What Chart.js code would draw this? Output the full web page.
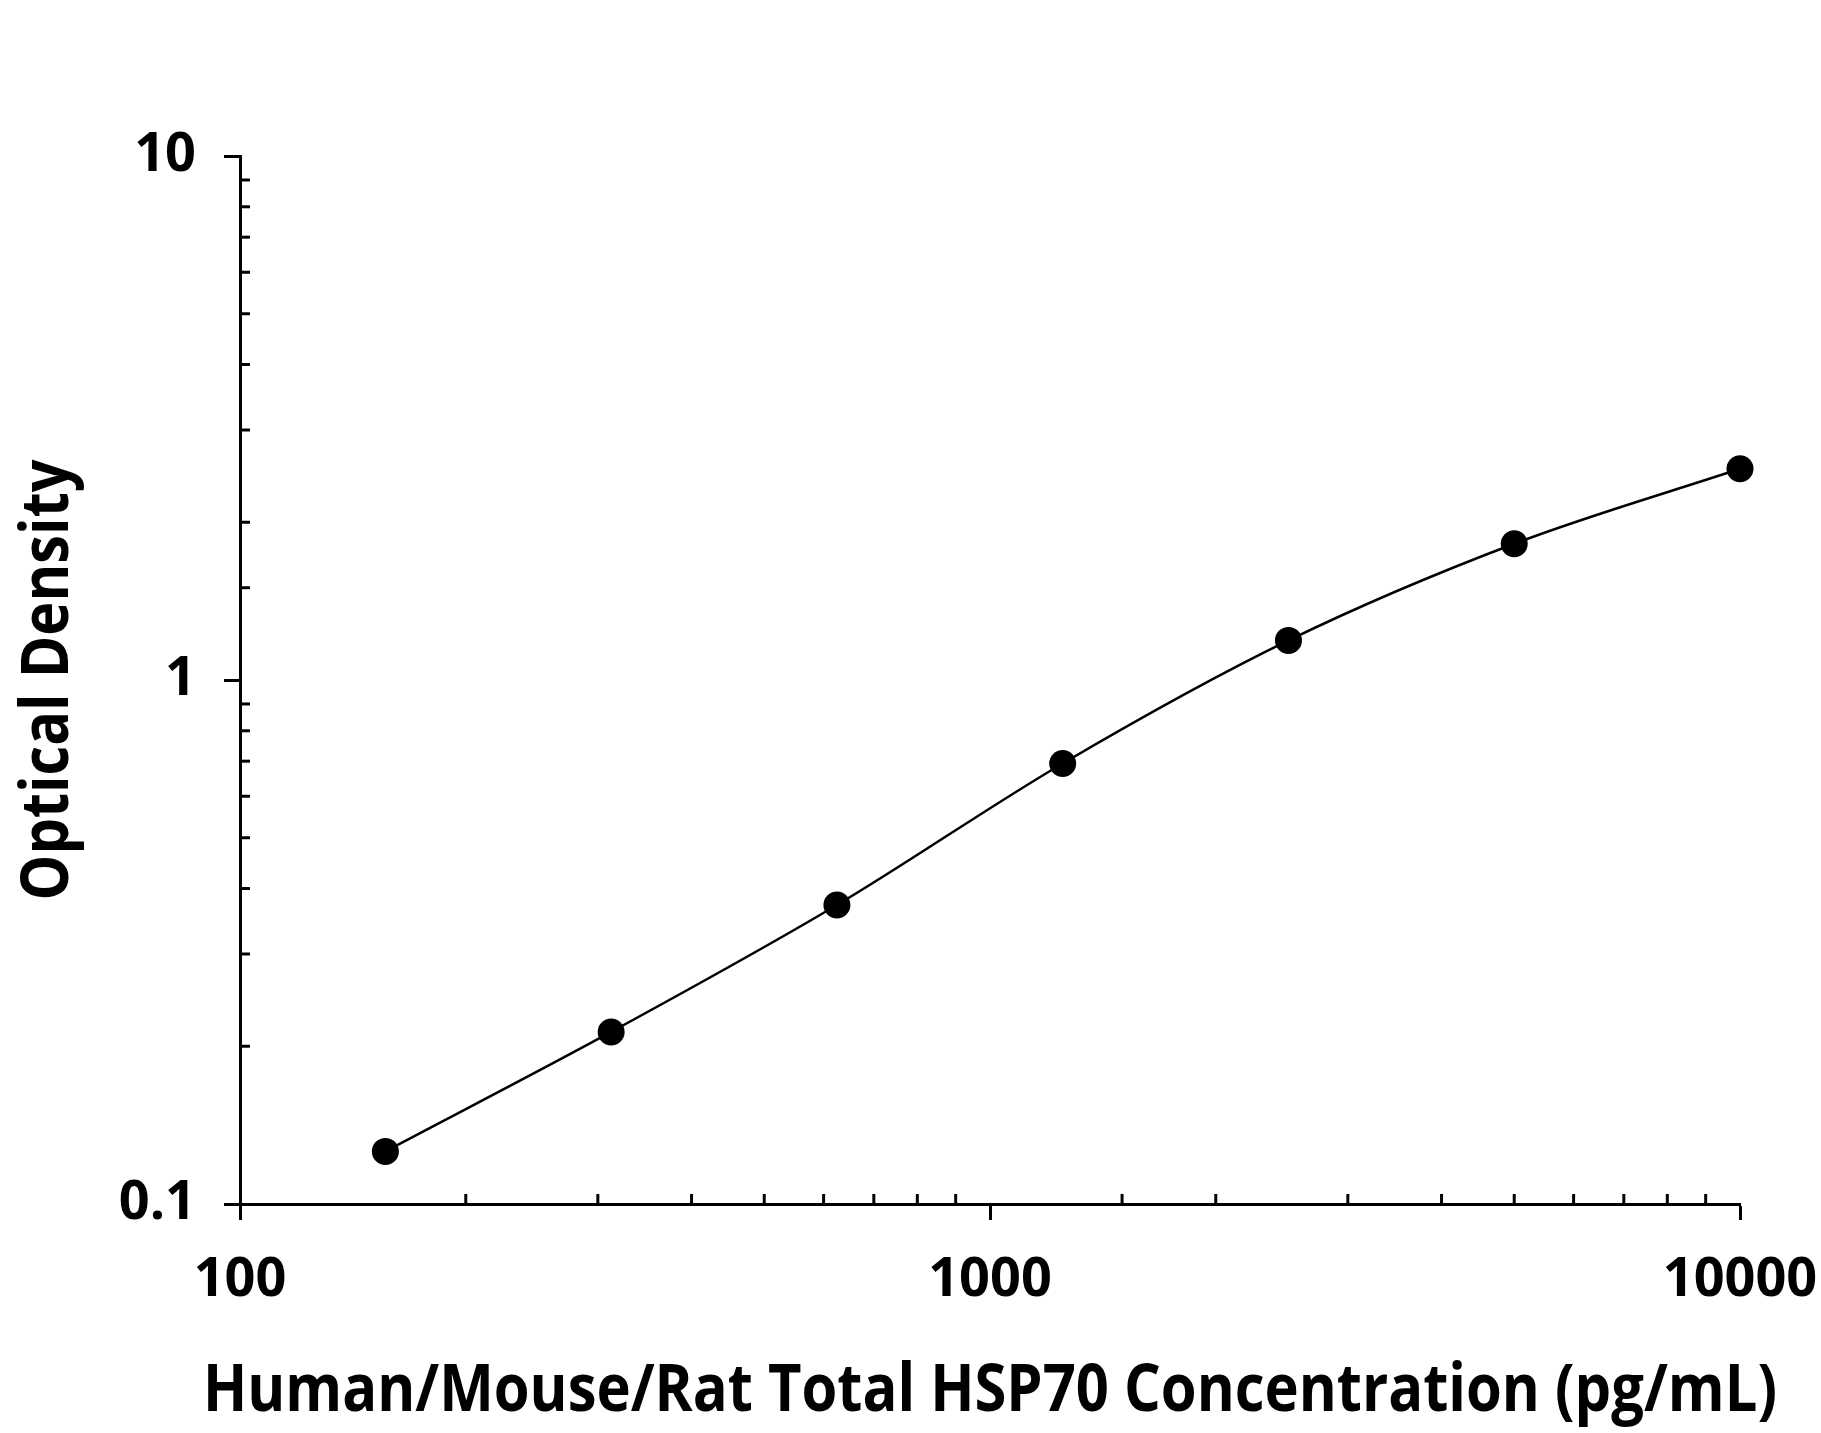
<!DOCTYPE html>
<html>
  <head>
    <title>HSP70 Standard Curve</title>
    <script src="https://cdn.jsdelivr.net/npm/chart.js"></script>
    <style>
      html, body {
        margin: 0;
        padding: 0;
        background: #fff;
      }
      #wrap {
        width: 1821px;
        height: 1433px;
      }
    </style>
  </head>
  <body>
    <div id="wrap"><canvas id="curveChart"></canvas></div>

    <script>
      // standard curve values
      const concentrations = [156.25, 312.5, 625, 1250, 2500, 5000, 10000];
      const opticalDensity = [0.126, 0.213, 0.372, 0.693, 1.19, 1.82, 2.53];
      const xRange = [100, 10000];
      const yRange = [0.1, 10];
      const xTitle = "Human/Mouse/Rat Total HSP70 Concentration (pg/mL)";
      const yTitle = "Optical Density";

      const isDecade = v => Math.abs(Math.log10(v) - Math.round(Math.log10(v))) < 1e-6;

      // minor ticks point inward, majors outward (majors drawn by the grid)
      const innerTicks = {
        id: "innerTicks",
        afterDraw(chart) {
          const { ctx, chartArea, scales } = chart;
          ctx.save();
          ctx.strokeStyle = "#000";
          ctx.lineWidth = 3;
          scales.x.ticks.forEach(t => {
            if (isDecade(t.value)) return;
            const px = scales.x.getPixelForValue(t.value);
            ctx.beginPath();
            ctx.moveTo(px, chartArea.bottom);
            ctx.lineTo(px, chartArea.bottom - 10);
            ctx.stroke();
          });
          scales.y.ticks.forEach(t => {
            if (isDecade(t.value)) return;
            const py = scales.y.getPixelForValue(t.value);
            ctx.beginPath();
            ctx.moveTo(chartArea.left, py);
            ctx.lineTo(chartArea.left + 10, py);
            ctx.stroke();
          });
          ctx.restore();
        }
      };

      // axis titles in a condensed bold face
      const axisTitles = {
        id: "axisTitles",
        afterDraw(chart) {
          const { ctx, chartArea } = chart;
          ctx.save();
          ctx.fillStyle = "#000";
          ctx.font = 'bold 67px "Open Sans"';
          ctx.textAlign = "center";
          ctx.textBaseline = "alphabetic";

          const cx = (chartArea.left + chartArea.right) / 2;
          let w = ctx.measureText(xTitle).width;
          ctx.save();
          ctx.translate(cx, 1411);
          ctx.scale(1574 / w, 1);
          ctx.fillText(xTitle, 0, 0);
          ctx.restore();

          const cy = (chartArea.top + chartArea.bottom) / 2;
          w = ctx.measureText(yTitle).width;
          ctx.save();
          ctx.translate(68, cy);
          ctx.rotate(-Math.PI / 2);
          ctx.scale(441 / w, 1);
          ctx.fillText(yTitle, 0, 0);
          ctx.restore();

          ctx.restore();
        }
      };

      const tickFont = { family: "Open Sans", size: 54, weight: "bold" };
      const majorOnly = ctx => (ctx.tick && isDecade(ctx.tick.value) ? "#000" : "rgba(0,0,0,0)");

      new Chart(document.getElementById("curveChart"), {
        type: "scatter",
        data: {
          datasets: [{
            label: "HSP70",
            data: concentrations.map((c, i) => ({ x: c, y: opticalDensity[i] })),
            showLine: true,
            cubicInterpolationMode: "monotone",
            borderColor: "#000",
            borderWidth: 2.5,
            backgroundColor: "#000",
            pointRadius: 13.5,
            pointHoverRadius: 13.5,
            pointBorderWidth: 0,
            clip: false
          }]
        },
        options: {
          responsive: true,
          maintainAspectRatio: false,
          animation: false,
          layout: { padding: { top: 156, right: 81, left: 0, bottom: 0 } },
          plugins: {
            legend: { display: false },
            tooltip: { enabled: false }
          },
          scales: {
            x: {
              type: "logarithmic",
              min: xRange[0],
              max: xRange[1],
              afterFit: s => {
                s.height = 229;
                s.paddingLeft = 0;
                s.paddingRight = 0;
              },
              border: { display: true, color: "#000", width: 3 },
              grid: { drawOnChartArea: false, drawTicks: true, tickLength: 16, tickWidth: 3, color: majorOnly },
              ticks: {
                autoSkip: false,
                maxRotation: 0,
                padding: 28,
                color: "#000",
                font: tickFont,
                callback: v => (isDecade(v) ? String(Math.round(v)) : "")
              }
            },
            y: {
              type: "logarithmic",
              min: yRange[0],
              max: yRange[1],
              afterFit: s => {
                s.width = 240;
                s.paddingTop = 0;
                s.paddingBottom = 0;
              },
              border: { display: true, color: "#000", width: 3 },
              grid: { drawOnChartArea: false, drawTicks: true, tickLength: 16, tickWidth: 3, color: majorOnly },
              ticks: {
                autoSkip: false,
                padding: 28,
                color: "#000",
                font: tickFont,
                callback: v => (isDecade(v) ? (v < 1 ? v.toFixed(1) : String(Math.round(v))) : "")
              }
            }
          }
        },
        plugins: [innerTicks, axisTitles]
      });
    </script>
  </body>
</html>
